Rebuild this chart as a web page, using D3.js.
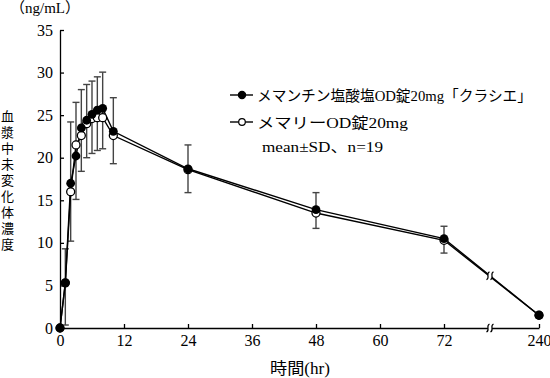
<!DOCTYPE html>
<html><head><meta charset="utf-8">
<script src="https://cdn.jsdelivr.net/npm/d3@7"></script>
<style>
html,body{margin:0;padding:0;background:#fff;}
svg{display:block;}
text{font-family:'Liberation Serif','Noto Sans CJK JP',serif;fill:#000;}
</style></head><body>
<svg id="chart" width="550" height="378"></svg>
<script>
// ---- data ----
const times = [0,1,2,3,4,5,6,7,8,10,24,48,72,240];
const kracie = [0,5.3,17.0,20.2,23.5,24.4,25.1,25.6,25.8,23.1,18.7,13.9,10.5,1.5];
const memary = [0,5.3,16.0,21.5,22.6,24.0,24.6,24.7,24.7,22.6,18.6,13.5,10.3,1.5];
const barTop    = [null,9.3,24.2,26.5,28.0,28.6,29.0,29.5,30.05,27.05,21.5,15.9,11.95,1.8];
const barBottom = [null,0.35,10.2,15.1,18.4,20.0,20.5,20.85,21.05,19.3,15.9,11.7,8.8,1.2];
const xTicks = [0,12,24,36,48,60,72,240];
const yTicks = [0,5,10,15,20,25,30,35];
const seriesNames = ["メマンチン塩酸塩OD錠20mg「クラシエ」","メマリーOD錠20mg"];
const noteText = "mean±SD、n=19";
const yUnit = "（ng/mL）";
const yTitle = "血漿中未変化体濃度";
const xTitle = "時間(hr)";

// ---- layout ----
const svg = d3.select("#chart");
const x = d3.scaleLinear().domain([0,72,240]).range([60,444,539]);
const y = d3.scaleLinear().domain([0,35]).range([328,30]);
const ink = "#000";

// axes
const xAxis = svg.append("g").attr("transform",`translate(0,${y(0)})`)
  .call(d3.axisBottom(x).tickValues(xTicks).tickSize(-4).tickSizeOuter(0).tickPadding(7).tickFormat(d3.format("d")));
const yAxis = svg.append("g").attr("transform",`translate(${x(0)},0)`)
  .call(d3.axisLeft(y).tickValues(yTicks).tickSize(-4).tickSizeOuter(0).tickPadding(7));
[xAxis,yAxis].forEach(g=>{
  g.selectAll("path,line").attr("stroke",ink).attr("stroke-width",1.3);
  g.selectAll("text").attr("font-size",16).attr("font-family","'Liberation Serif',serif").attr("fill",ink);
});

// break position between 72 and 240
const xb = x(72) + (x(240)-x(72))*0.484;
function breakMarks(cy, h){
  svg.append("rect").attr("x",xb-2).attr("y",cy-h).attr("width",4).attr("height",2*h).attr("fill","#fff");
  [-2,2].forEach(dx=>{
    const cx = xb+dx;
    svg.append("path")
      .attr("d",`M${cx+1.5},${cy-4} C${cx-2.5},${cy-2} ${cx+2.5},${cy+2} ${cx-1.5},${cy+4}`)
      .attr("fill","none").attr("stroke",ink).attr("stroke-width",1.2);
  });
}

// error bars
const bars = times.map((t,i)=>({t,top:barTop[i],bot:barBottom[i]})).filter(d=>d.top!=null);
const eb = svg.append("g").attr("stroke","#444").attr("stroke-width",1.4).attr("fill","none");
bars.forEach(d=>{
  const cx = x(d.t);
  eb.append("line").attr("x1",cx).attr("x2",cx).attr("y1",y(d.top)).attr("y2",y(d.bot));
  eb.append("line").attr("x1",cx-3.5).attr("x2",cx+3.5).attr("y1",y(d.top)).attr("y2",y(d.top));
  eb.append("line").attr("x1",cx-3.5).attr("x2",cx+3.5).attr("y1",y(d.bot)).attr("y2",y(d.bot));
});

// lines
const line = d3.line().x(d=>x(d[0])).y(d=>y(d[1]));
const kData = times.map((t,i)=>[t,kracie[i]]);
const mData = times.map((t,i)=>[t,memary[i]]);
[mData,kData].forEach(dat=>{
  svg.append("path").attr("d",line(dat)).attr("fill","none").attr("stroke",ink).attr("stroke-width",1.4);
});

// break marks on axis and on line
breakMarks(y(0), 5);
const yl = y(kracie[12]) + (y(kracie[13])-y(kracie[12]))*0.484;
breakMarks(yl, 6);

// markers
svg.append("g").selectAll("circle").data(mData).join("circle")
  .attr("cx",d=>x(d[0])).attr("cy",d=>y(d[1])).attr("r",4)
  .attr("fill","#fff").attr("stroke",ink).attr("stroke-width",1.3);
svg.append("g").selectAll("circle").data(kData).join("circle")
  .attr("cx",d=>x(d[0])).attr("cy",d=>y(d[1])).attr("r",4.4)
  .attr("fill",ink);

// legend
const legY = [95,122];
const legLen = [275,151];
seriesNames.forEach((name,i)=>{
  svg.append("line").attr("x1",230).attr("x2",253).attr("y1",legY[i]).attr("y2",legY[i])
    .attr("stroke",ink).attr("stroke-width",1.4);
  svg.append("circle").attr("cx",242).attr("cy",legY[i]).attr("r",i===0?3.6:3.3)
    .attr("fill",i===0?ink:"#fff").attr("stroke",ink).attr("stroke-width",1.2);
  svg.append("text").attr("x",257).attr("y",legY[i]+5.5).attr("font-size",15)
    .attr("textLength",legLen[i]).attr("lengthAdjust","spacingAndGlyphs").text(name);
});
svg.append("text").attr("x",262).attr("y",151.5).attr("font-size",15)
  .attr("textLength",121).attr("lengthAdjust","spacingAndGlyphs").text(noteText);

// axis titles
svg.append("text").attr("x",10).attr("y",13).attr("font-size",15).text(yUnit);
svg.append("text").attr("x",270).attr("y",374).attr("font-size",16)
  .attr("textLength",60).attr("lengthAdjust","spacingAndGlyphs").text(xTitle);
svg.append("g").selectAll("text").data(Array.from(yTitle)).join("text")
  .attr("x",7.5).attr("y",(d,i)=>121+i*16).attr("font-size",13).attr("text-anchor","middle").text(d=>d);
</script>
</body></html>
